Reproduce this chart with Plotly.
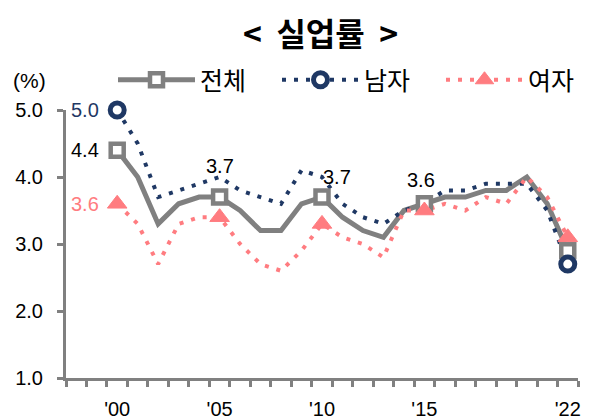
import plotly.graph_objects as go

years = list(range(2000, 2023))
total = [4.4, 4.0, 3.3, 3.6, 3.7, 3.7, 3.5, 3.2, 3.2, 3.6, 3.7, 3.4, 3.2, 3.1, 3.5, 3.6, 3.7, 3.7, 3.8, 3.8, 4.0, 3.6, 2.9]
male = [5.0, 4.5, 3.7, 3.8, 3.9, 4.0, 3.8, 3.7, 3.6, 4.1, 4.0, 3.6, 3.4, 3.3, 3.5, 3.6, 3.8, 3.8, 3.9, 3.9, 3.9, 3.5, 2.7]
female = [3.6, 3.3, 2.7, 3.3, 3.4, 3.4, 3.0, 2.7, 2.6, 2.9, 3.3, 3.1, 3.0, 2.8, 3.5, 3.5, 3.6, 3.5, 3.7, 3.6, 4.0, 3.7, 3.1]
marker_years_total = [2000, 2005, 2010, 2015, 2022]
marker_years_male = [2000, 2022]
marker_years_female = [2000, 2005, 2010, 2015, 2022]
tick_years = [2000, 2005, 2010, 2015, 2022]
tick_labels = ["'00", "'05", "'10", "'15", "'22"]
names = ["전체", "남자", "여자"]

GRAY = "#808080"
NAVY = "#1F3864"
PINK = "#FF7C80"
NUM_FONT = "Liberation Sans, Arial, sans-serif"
KR_FONT = "Noto Sans CJK KR, sans-serif"

def pick(ys, sel):
    return [ys[years.index(y)] for y in sel]

fig = go.Figure()
dot = "4px,8px"
fig.add_trace(go.Scatter(x=years, y=total, mode="lines", line=dict(color=GRAY, width=5),
                         showlegend=False, hoverinfo="skip"))
fig.add_trace(go.Scatter(x=years, y=male, mode="lines", line=dict(color=NAVY, width=4, dash=dot),
                         showlegend=False, hoverinfo="skip"))
fig.add_trace(go.Scatter(x=years, y=female, mode="lines", line=dict(color=PINK, width=4, dash=dot),
                         showlegend=False, hoverinfo="skip"))

sq = dict(symbol="square", size=13, color="white", line=dict(color=GRAY, width=4.5))
ci = dict(symbol="circle", size=14, color="white", line=dict(color=NAVY, width=5))
tr = dict(symbol="triangle-up", size=17, color=PINK, line=dict(color=PINK, width=1))

fig.add_trace(go.Scatter(x=marker_years_total, y=pick(total, marker_years_total), mode="markers",
                         marker=sq, showlegend=False, cliponaxis=False))
fig.add_trace(go.Scatter(x=marker_years_male, y=pick(male, marker_years_male), mode="markers",
                         marker=ci, showlegend=False, cliponaxis=False))
fig.add_trace(go.Scatter(x=marker_years_female, y=pick(female, marker_years_female), mode="markers",
                         marker=tr, showlegend=False, cliponaxis=False))

# legend entries
fig.add_trace(go.Scatter(x=[None], y=[None], mode="lines+markers", name=names[0],
                         line=dict(color=GRAY, width=5), marker=sq))
fig.add_trace(go.Scatter(x=[None], y=[None], mode="lines+markers", name=names[1],
                         line=dict(color=NAVY, width=4, dash=dot), marker=ci))
fig.add_trace(go.Scatter(x=[None], y=[None], mode="lines+markers", name=names[2],
                         line=dict(color=PINK, width=4, dash=dot), marker=tr))

ann = []
def lab(x, y, text, color, xs, ys):
    ann.append(dict(x=x, y=y, xref="x", yref="y", text=text, showarrow=False,
                    xshift=xs, yshift=ys, font=dict(family=NUM_FONT, size=20, color=color)))

lab(2000, male[0], f"{male[0]:.1f}", NAVY, -32, 0)
lab(2000, total[0], f"{total[0]:.1f}", "#000000", -32, 0)
lab(2000, female[0], f"{female[0]:.1f}", PINK, -32, 0)
lab(2005, total[5], f"{total[5]:.1f}", "#000000", 0, 31)
lab(2010, total[10], f"{total[10]:.1f}", "#000000", 15, 20)
lab(2015, total[15], f"{total[15]:.1f}", "#000000", -3, 24)

# page body has an 8px margin; figure is 582x412 so it fills the 590x420 window
# plot area in window pixels: x 66..578 (512 px), y 110..378 (268 px)
PW, PH = 512, 268
ann.append(dict(text="(%)", xref="paper", yref="paper", x=(29 - 66) / PW, y=1 + (110 - 80) / PH,
                xanchor="center", yanchor="middle", showarrow=False,
                font=dict(family=NUM_FONT, size=21, color="#000000")))
ann.append(dict(text="<b><\u00a0\u00a0실업률\u00a0\u00a0></b>", xref="paper", yref="paper",
                x=(320 - 66) / PW, y=1 + (110 - 31.5) / PH, xanchor="center", yanchor="middle",
                showarrow=False, borderpad=0, font=dict(family=KR_FONT, size=32, color="#000000")))

fig.update_layout(
    width=582, height=412,
    margin=dict(l=58, r=12, t=102, b=42, autoexpand=False),
    paper_bgcolor="white", plot_bgcolor="white",
    annotations=ann,
    showlegend=True,
    legend=dict(orientation="h", x=(113 - 66) / PW, y=1 + (110 - 80) / PH, xanchor="left",
                yanchor="middle",
                font=dict(family=KR_FONT, size=25, color="#000000"), itemwidth=77,
                entrywidth=72, bgcolor="rgba(0,0,0,0)", tracegroupgap=0),
    xaxis=dict(range=[1997.5, 2022.5], tickvals=tick_years, ticktext=tick_labels,
               ticks="", showgrid=False, zeroline=False, showline=True, linecolor=GRAY, linewidth=3,
               automargin=False, ticklabelstandoff=11,
               tickfont=dict(family=NUM_FONT, size=20, color="#000000"),
               minor=dict(ticks="outside", tick0=1997.5, dtick=1, ticklen=6, tickcolor=GRAY,
                          tickwidth=3, showgrid=False)),
    yaxis=dict(range=[1, 5], tickvals=[1, 2, 3, 4, 5], tickformat=".1f", ticks="outside",
               ticklen=6, tickcolor=GRAY, tickwidth=3, showgrid=False, zeroline=False,
               showline=True, linecolor=GRAY, linewidth=3, automargin=False, ticklabelstandoff=10,
               tickfont=dict(family=NUM_FONT, size=20, color="#000000")),
)
fig.write_html("out.html")
